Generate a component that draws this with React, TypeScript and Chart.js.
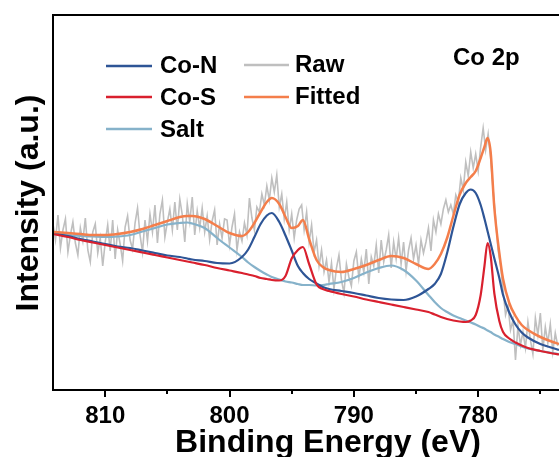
import React, { useEffect, useRef } from "react";
import { Chart, registerables } from "chart.js";

Chart.register(...registerables);

// Binding energy grid (eV) for the fitted component curves
const GRID_EV = [
  814.2, 813, 812, 811, 810, 809, 808, 807, 806, 805,
  804, 803.4, 803, 802, 801, 800, 799, 798.5, 798, 797.5,
  797, 796.6, 796, 795.5, 795, 794.5, 794.1, 793.6, 793, 792.5,
  792, 791, 790, 789, 788, 787, 786, 785, 784, 783.5,
  783, 782.5, 782, 781.5, 781, 780.6, 780.2, 779.8, 779.5, 779.25,
  779, 778.7, 778.3, 778, 777.5, 777, 776.5, 776, 775, 774, 773.5,
];

const CO_N = [
  157, 154, 151, 148.5, 146, 143.5, 142, 139.5, 137, 134.5,
  133, 131.5, 130.5, 129, 127, 126.5, 133, 140.5, 153, 166,
  174.5, 177, 168, 154.5, 139.5, 124, 117, 111, 106.5, 103,
  101, 99, 97, 94.5, 92, 90.5, 90, 93.5, 101, 106,
  116, 137, 163, 185.5, 197, 200.5, 197, 185, 171.5, 159,
  146.5, 131.5, 112, 95, 77.5, 65.5, 57.5, 52.5, 46, 42, 40,
];

const CO_S = [
  156, 153, 150, 147.5, 145, 142.5, 140, 137.5, 135, 132.5,
  130, 128.5, 127.5, 125, 122, 119.5, 117, 115.5, 114, 112,
  111, 110, 109.5, 114, 131.5, 140, 143, 126, 105.5, 101,
  99, 96, 93.5, 90.5, 88, 85.5, 83, 80.5, 78, 75.5,
  73, 71, 69.5, 68.5, 68, 69.5, 75, 95, 123.5, 147,
  134.5, 96.5, 69, 58, 51.5, 47.5, 44.5, 42, 39, 36.5, 35.5,
];

const SALT = [
  157, 155, 154, 153.5, 153, 153.5, 155, 158.5, 162, 165.5,
  167, 167.5, 166.5, 162, 152, 142.5, 133, 127.5, 123, 119,
  115.5, 113, 110.5, 108.5, 107.5, 106, 105, 105, 104.5, 105,
  106, 108, 112, 117.5, 122, 124.5, 120, 109.5, 95, 88,
  82, 78, 74.5, 72, 69.5, 67.5, 65.5, 63, 61.5, 59.5,
  58, 55.5, 53, 51, 48, 46, 43.5, 41.5, 39, 37, 36,
];

const FITTED = [
  158, 157, 156, 155, 155, 156, 158, 161, 165, 169,
  173, 174, 174, 171, 164, 157, 154, 158, 167, 178,
  188, 192, 186, 173, 162, 164, 170, 151, 130, 123,
  120, 118, 121, 125, 130, 134, 132, 126, 121, 126,
  136, 152, 174, 195, 207, 213, 219, 232, 243, 252,
  238, 182, 137, 111, 87, 74, 65, 60, 53, 48, 46,
];

// Raw spectrum: sampled every 0.2 eV starting at 814.2 eV going down
const RAW_START = 814.2;
const RAW_STEP = 0.2;
const RAW = [
  166, 150, 175, 142, 160, 171, 138, 155, 168, 147,
  135, 162, 149, 172, 140, 128, 158, 166, 137, 152,
  124, 148, 165, 139, 170, 131, 160, 146, 129, 163,
  174, 150, 141, 167, 182, 155, 138, 170, 149, 176,
  158, 185, 147, 176, 190, 153, 168, 181, 160, 188,
  160, 191, 175, 148, 186, 168, 193, 155, 179, 162,
  182, 158, 174, 150, 169, 180, 145, 166, 152, 171,
  170, 145, 163, 176, 140, 158, 149, 167, 155, 192,
  172, 160, 183, 178, 196, 185, 204, 190, 212, 198,
  215, 183, 196, 171, 188, 160, 176, 152, 170, 181,
  185, 160, 178, 148, 165, 138, 150, 124, 140, 118,
  130, 108, 127, 101, 122, 135, 110, 97, 126, 113,
  104, 129, 138, 112, 131, 118, 141, 106, 133, 124,
  145, 117, 150, 128, 140, 155, 122, 148, 131, 152,
  126, 148, 119, 140, 152, 131, 145, 126, 150, 137,
  148, 162, 139, 170, 158, 176, 166, 181, 190, 178,
  185, 176, 195, 188, 212, 200, 228, 214, 238, 222,
  236, 219, 243, 262, 240, 256, 232, 200, 172, 140,
  124, 100, 75, 84, 60, 70, 30, 64, 45, 58,
  42, 68, 50, 36, 72, 55, 77, 40, 63, 47,
  66, 38, 57, 44,
];

const MAJOR_TICKS = [810, 800, 790, 780];
const MINOR_TICKS = [805, 795, 785, 775];
const X_MIN = 773.5;
const X_MAX = 814.2;
const Y_MIN = 0;
const Y_MAX = 375;

const C_CON = "#2E5596";
const C_COS = "#D9202E";
const C_SALT = "#86B2CA";
const C_RAW = "#BFBFBF";
const C_FIT = "#F47E4B";

const FONT = '"Liberation Sans", Arial, sans-serif';

export default function App() {
  const ref = useRef<HTMLCanvasElement>(null);

  useEffect(() => {
    const canvas = ref.current;
    if (!canvas) return;
    const pts = (ys: number[]) => GRID_EV.map((x, i) => ({ x, y: ys[i] }));
    const rawPts = RAW.map((y, i) => ({
      x: Math.round((RAW_START - i * RAW_STEP) * 100) / 100,
      y,
    }));

    const decor = {
      id: "decor",
      afterDraw(chart: any) {
        const ctx = chart.ctx as CanvasRenderingContext2D;
        const { left, right, top, bottom } = chart.chartArea;
        const xs = chart.scales.x;
        ctx.save();
        // frame
        ctx.strokeStyle = "#000";
        ctx.lineWidth = 2;
        ctx.beginPath();
        ctx.moveTo(right + 2, top);
        ctx.lineTo(left, top);
        ctx.lineTo(left, bottom);
        ctx.lineTo(right + 2, bottom);
        ctx.stroke();
        // ticks
        ctx.beginPath();
        for (const v of MAJOR_TICKS) {
          const px = Math.round(xs.getPixelForValue(v));
          ctx.moveTo(px, bottom);
          ctx.lineTo(px, bottom + 7);
        }
        for (const v of MINOR_TICKS) {
          const px = Math.round(xs.getPixelForValue(v));
          ctx.moveTo(px, bottom);
          ctx.lineTo(px, bottom + 4);
        }
        ctx.stroke();
        // tick labels
        ctx.fillStyle = "#000";
        ctx.font = `bold 24px ${FONT}`;
        ctx.textAlign = "center";
        ctx.textBaseline = "alphabetic";
        for (const v of MAJOR_TICKS) {
          ctx.fillText(String(v), xs.getPixelForValue(v), 423);
        }
        // axis titles
        ctx.font = `bold 32px ${FONT}`;
        ctx.fillText("Binding Energy (eV)", 328, 452);
        ctx.save();
        ctx.translate(38, 203);
        ctx.rotate(-Math.PI / 2);
        ctx.fillText("Intensity (a.u.)", 0, 0);
        ctx.restore();
        // legend
        const items = [
          { label: "Co-N", color: C_CON, x1: 106, x2: 152, ly: 66, tx: 160, ty: 73 },
          { label: "Co-S", color: C_COS, x1: 106, x2: 152, ly: 97, tx: 160, ty: 105 },
          { label: "Salt", color: C_SALT, x1: 106, x2: 152, ly: 129, tx: 160, ty: 137 },
          { label: "Raw", color: C_RAW, x1: 244, x2: 289, ly: 65, tx: 295, ty: 72 },
          { label: "Fitted", color: C_FIT, x1: 244, x2: 289, ly: 97, tx: 295, ty: 104 },
        ];
        ctx.font = `bold 24px ${FONT}`;
        ctx.textAlign = "left";
        for (const it of items) {
          ctx.strokeStyle = it.color;
          ctx.lineWidth = 2.5;
          ctx.beginPath();
          ctx.moveTo(it.x1, it.ly);
          ctx.lineTo(it.x2, it.ly);
          ctx.stroke();
          ctx.fillStyle = "#000";
          ctx.fillText(it.label, it.tx, it.ty);
        }
        ctx.fillText("Co 2p", 453, 65);
        ctx.restore();
      },
    };

    const lineDs = (label: string, data: any, color: string, width: number, order: number, smooth: boolean) => ({
      label,
      data,
      borderColor: color,
      backgroundColor: color,
      borderWidth: width,
      pointRadius: 0,
      fill: false,
      order,
      tension: smooth ? 0.4 : 0,
      cubicInterpolationMode: smooth ? ("monotone" as const) : ("default" as const),
    });

    const chart = new Chart(canvas, {
      type: "line",
      data: {
        datasets: [
          lineDs("Fitted", pts(FITTED), C_FIT, 2.5, 0, true),
          lineDs("Co-S", pts(CO_S), C_COS, 2.2, 1, true),
          lineDs("Co-N", pts(CO_N), C_CON, 2.2, 2, true),
          lineDs("Salt", pts(SALT), C_SALT, 2.2, 3, true),
          lineDs("Raw", rawPts, C_RAW, 1.6, 4, false),
        ],
      },
      options: {
        responsive: false,
        animation: false,
        devicePixelRatio: 1,
        layout: { padding: { left: 53, top: 15, right: 0, bottom: 67 } },
        plugins: {
          legend: { display: false },
          tooltip: { enabled: false },
        },
        scales: {
          x: { type: "linear", min: X_MIN, max: X_MAX, reverse: true, display: false },
          y: { type: "linear", min: Y_MIN, max: Y_MAX, display: false },
        },
      },
      plugins: [decor],
    });
    return () => chart.destroy();
  }, []);

  return (
    <div style={{ position: "absolute", left: 0, top: 0, width: 559, height: 457, background: "#fff" }}>
      <canvas ref={ref} width={559} height={457} style={{ display: "block" }} />
    </div>
  );
}
